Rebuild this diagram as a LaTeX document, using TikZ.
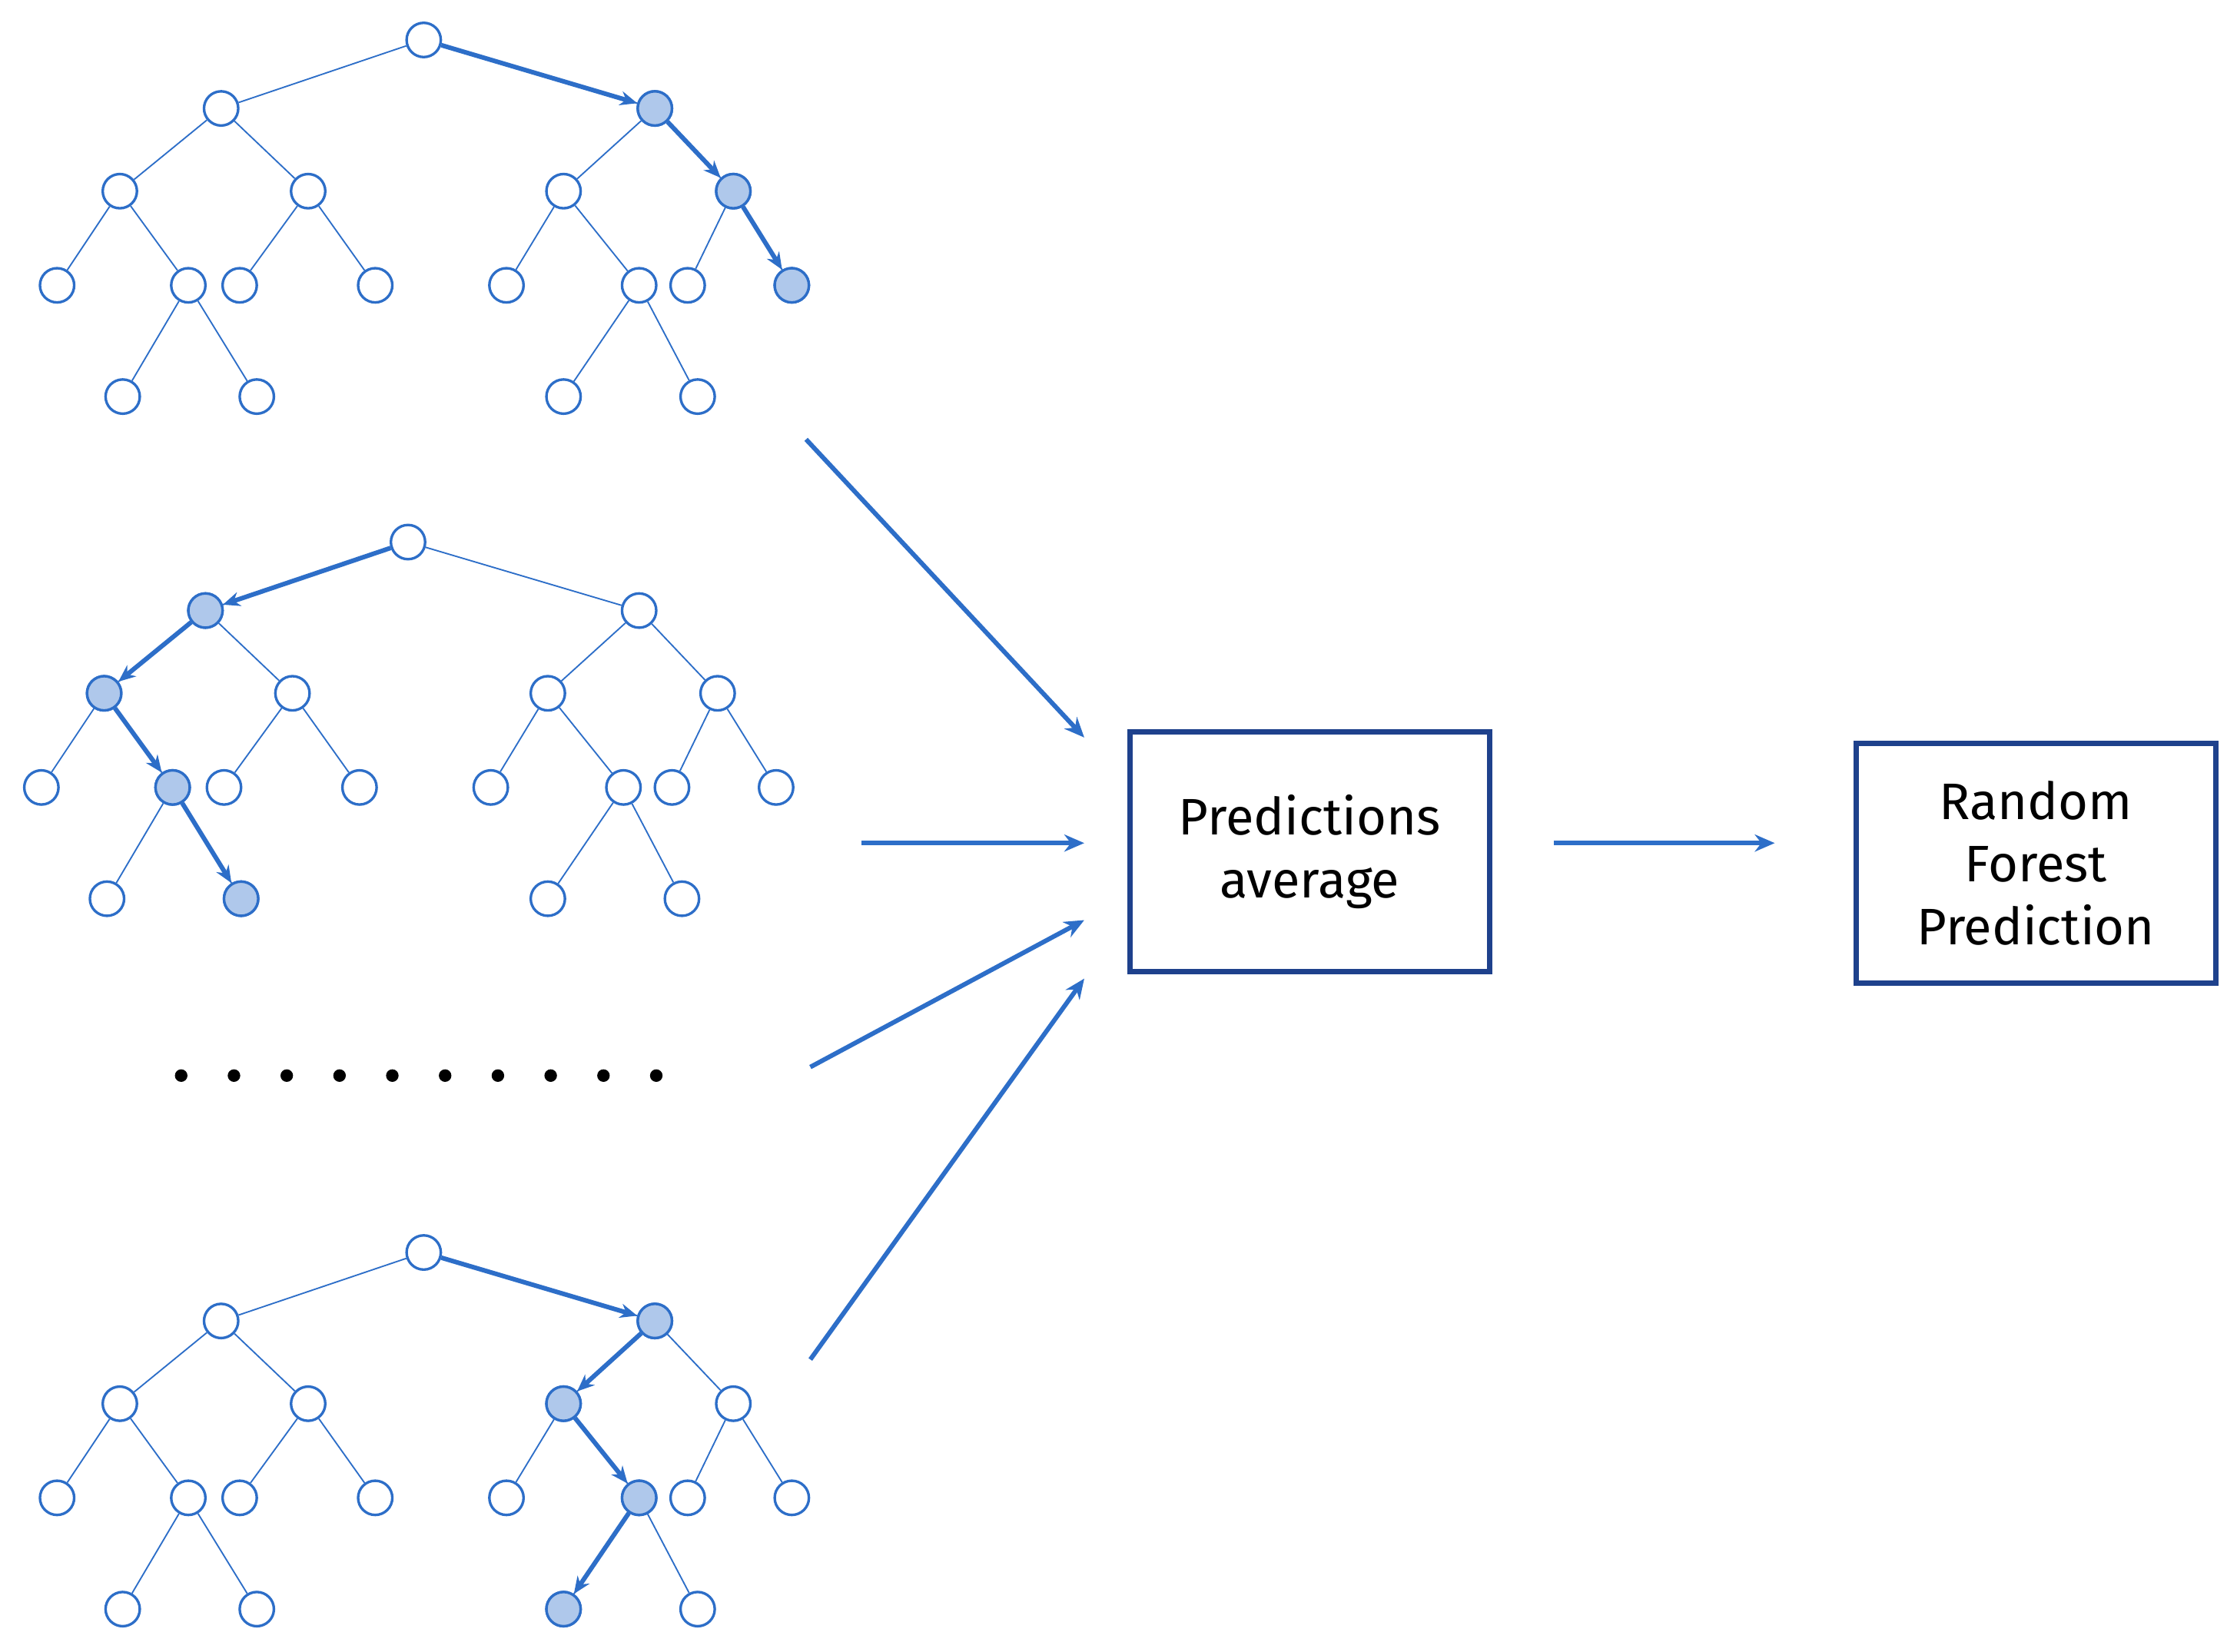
\documentclass[tikz,border=0pt]{standalone}
\usepackage{fontspec}
\setmainfont{Fira Sans}
\usetikzlibrary{arrows.meta}
\definecolor{tb}{RGB}{45,110,200}
\definecolor{bx}{RGB}{30,65,140}
\definecolor{hf}{RGB}{175,200,235}
\tikzset{
 vtx/.style={circle,draw=tb,line width=0.9pt,fill=white,minimum size=12pt,inner sep=0pt},
 hl/.style={fill=hf},
 edge/.style={draw=tb,line width=0.5pt},
 path/.style={draw=tb,line width=1.6pt,-{Stealth[length=6pt,width=5pt]}},
 big/.style={draw=tb,line width=1.6pt,-{Stealth[length=7pt,width=6pt]}},
 box/.style={draw=bx,line width=1.8pt,minimum width=126pt,minimum height=84pt,align=center,font=\fontsize{18}{22}\selectfont}
}
\newcommand\mktree[3]{%
 \foreach \i/\x/\y in {0/297/28,1/155/76,2/459/76,3/84/134,4/216/134,5/395/134,6/514/134,7/40/200,8/132/200,9/168/200,10/263/200,11/355/200,12/448/200,13/482/200,14/555/200,15/86/278,16/180/278,17/395/278,18/489/278}
  {\node[vtx] (#1n\i) at (\x+#2,\y+#3) {};}
 \foreach \a/\b in {0/1,0/2,1/3,1/4,2/5,2/6,3/7,3/8,4/9,4/10,5/11,5/12,6/13,6/14,8/15,8/16,12/17,12/18}
  {\draw[edge] (#1n\a)--(#1n\b);}
}
\begin{document}
\begin{tikzpicture}[x=0.5pt,y=-0.5pt]
\useasboundingbox (0,0) rectangle (1568,1158);
\mktree{A}{0}{0}
\mktree{B}{-11}{352}
\mktree{C}{0}{850}
% highlighted paths
\foreach \t/\i in {A/2,A/6,A/14,B/1,B/3,B/8,B/16,C/2,C/5,C/12,C/17}
 {\node[vtx,hl] at (\t n\i) {};}
\draw[path] (An0)--(An2); \draw[path] (An2)--(An6); \draw[path] (An6)--(An14);
\draw[path] (Bn0)--(Bn1); \draw[path] (Bn1)--(Bn3); \draw[path] (Bn3)--(Bn8); \draw[path] (Bn8)--(Bn16);
\draw[path] (Cn0)--(Cn2); \draw[path] (Cn2)--(Cn5); \draw[path] (Cn5)--(Cn12); \draw[path] (Cn12)--(Cn17);
% dots
\foreach \k in {0,...,9} \fill (127+\k*37,754) circle (2.2pt);
% boxes
\node[box] (avg) at (918,597) {Predictions\\average};
\node[box] (rf) at (1427,605) {Random\\Forest\\Prediction};
\coordinate (s1) at (565,308); \coordinate (e1) at (760,517);
\coordinate (s2) at (604,591); \coordinate (e2) at (760,591);
\coordinate (s3) at (568,748); \coordinate (e3) at (760,645);
\coordinate (s4) at (568,953); \coordinate (e4) at (760,686);
\coordinate (s5) at (1089,591); \coordinate (e5) at (1244,591);
\draw[big] (s1)--(e1); \draw[big] (s2)--(e2); \draw[big] (s3)--(e3); \draw[big] (s4)--(e4); \draw[big] (s5)--(e5);
\end{tikzpicture}
\end{document}
